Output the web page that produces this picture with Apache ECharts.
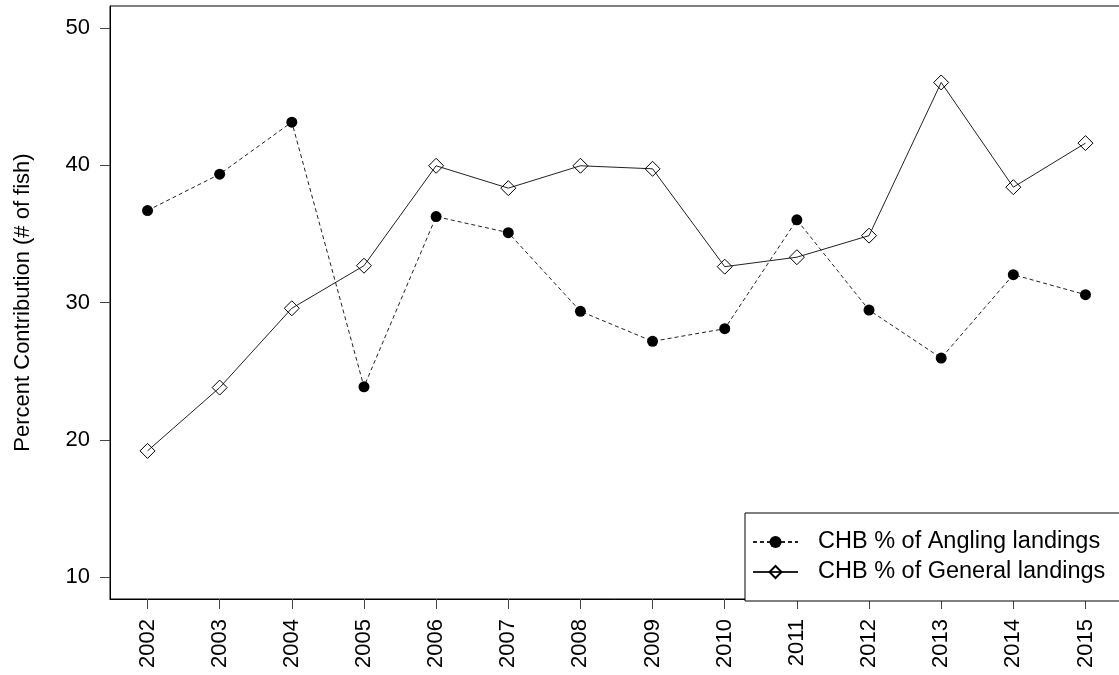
<!DOCTYPE html>
<html>
<head>
<meta charset="utf-8">
<script src="https://cdn.jsdelivr.net/npm/echarts@6/dist/echarts.min.js"></script>
<style>
html,body{margin:0;padding:0;background:#fff;}
#chart{width:1119px;height:675px;}
</style>
</head>
<body>
<div id="chart"></div>
<script>
const years = [2002, 2003, 2004, 2005, 2006, 2007, 2008, 2009, 2010, 2011, 2012, 2013, 2014, 2015];
const anglingPct = [36.70, 39.35, 43.14, 23.86, 36.26, 35.09, 29.36, 27.17, 28.09, 36.02, 29.45, 25.95, 32.03, 30.57];
const generalPct = [19.19, 23.80, 29.58, 32.68, 39.96, 38.33, 39.96, 39.74, 32.61, 33.30, 34.87, 46.03, 38.40, 41.61];
const yTicks = [10, 20, 30, 40, 50];
const seriesNames = ['CHB % of Angling landings', 'CHB % of General landings'];
const yAxisTitle = 'Percent Contribution (# of fish)';

const FONT = '"Liberation Sans", Arial, Helvetica, sans-serif';
const chart = echarts.init(document.getElementById('chart'), null, {renderer: 'canvas'});

const option = {
  backgroundColor: '#fff',
  animation: false,
  textStyle: {fontFamily: FONT, color: '#000'},
  grid: {
    left: 110, top: 6, width: 1013, height: 593,
    outerBoundsMode: 'none',
    containLabel: false,
    show: true, borderColor: '#000', borderWidth: 1, backgroundColor: 'transparent'
  },
  xAxis: {
    type: 'value',
    min: 2001.48, max: 2015.52,
    axisLine: {show: true, onZero: false, lineStyle: {color: '#000', width: 1}},
    axisTick: {show: true, length: 10, inside: false, customValues: years, lineStyle: {color: '#444'}},
    axisLabel: {
      show: true, rotate: 90, margin: 20, customValues: years,
      fontSize: 22, fontFamily: FONT, color: '#000',
      formatter: v => String(v)
    },
    splitLine: {show: false}
  },
  yAxis: {
    type: 'value',
    min: 8.4, max: 51.6,
    name: yAxisTitle,
    nameLocation: 'middle',
    nameGap: 76,
    nameTextStyle: {fontSize: 22, fontFamily: FONT, color: '#000'},
    axisLine: {show: true, onZero: false, lineStyle: {color: '#000', width: 1}},
    axisTick: {show: true, length: 10, inside: false, customValues: yTicks, lineStyle: {color: '#444'}},
    axisLabel: {
      show: true, margin: 20, customValues: yTicks,
      fontSize: 22, fontFamily: FONT, color: '#000'
    },
    splitLine: {show: false}
  },
  legend: {
    show: true,
    orient: 'vertical',
    left: 745, top: 513,
    padding: [17, 40, 17, 7],
    itemGap: 6,
    itemWidth: 45, itemHeight: 15,
    backgroundColor: '#fff',
    borderColor: '#000', borderWidth: 1,
    selectedMode: false,
    textStyle: {fontSize: 23.5, fontFamily: FONT, color: '#000', lineHeight: 23, padding: [0, 0, 0, 15]},
    data: seriesNames
  },
  series: [
    {
      name: seriesNames[0],
      type: 'line',
      data: years.map((y, i) => [y, anglingPct[i]]),
      symbol: 'circle',
      symbolSize: 11,
      itemStyle: {color: '#000', borderColor: '#000', borderWidth: 0},
      lineStyle: {color: '#222', width: 1, type: [4, 3]},
      z: 3
    },
    {
      name: seriesNames[1],
      type: 'line',
      data: years.map((y, i) => [y, generalPct[i]]),
      symbol: 'diamond',
      symbolSize: 15,
      itemStyle: {color: 'rgba(0,0,0,0)', borderColor: '#000', borderWidth: 1},
      lineStyle: {color: '#222', width: 1, type: 'solid'},
      z: 2
    }
  ]
};
chart.setOption(option);
</script>
</body>
</html>
